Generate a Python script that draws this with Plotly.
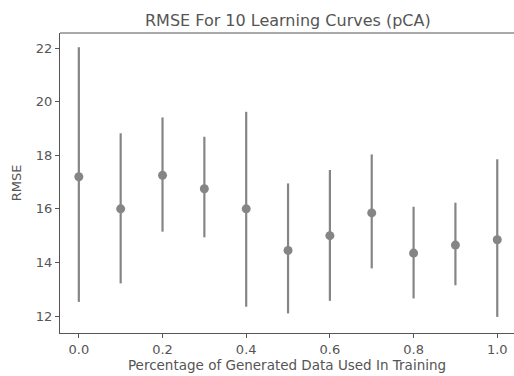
import plotly.graph_objects as go

fractions = [0.0, 0.1, 0.2, 0.3, 0.4, 0.5, 0.6, 0.7, 0.8, 0.9, 1.0]
rmse_mean = [17.2, 16.0, 17.25, 16.75, 16.0, 14.45, 15.0, 15.85, 14.35, 14.65, 14.85]
rmse_upper = [22.03, 18.82, 19.41, 18.69, 19.62, 16.95, 17.45, 18.03, 16.08, 16.23, 17.85]
rmse_lower = [12.53, 13.22, 15.15, 14.94, 12.35, 12.10, 12.57, 13.78, 12.66, 13.15, 11.97]

x_ticks = [0.0, 0.2, 0.4, 0.6, 0.8, 1.0]
y_ticks = [12, 14, 16, 18, 20, 22]

err_plus = [u - m for u, m in zip(rmse_upper, rmse_mean)]
err_minus = [m - l for m, l in zip(rmse_mean, rmse_lower)]

gray = "#858585"
text_col = "#555555"

fig = go.Figure()
fig.add_trace(go.Scatter(
    x=fractions, y=rmse_mean, mode="markers",
    marker=dict(size=9, color=gray),
    error_y=dict(type="data", symmetric=False, array=err_plus, arrayminus=err_minus,
                 color=gray, thickness=2.2, width=0),
    showlegend=False,
))

fig.update_layout(
    width=514, height=376,
    margin=dict(l=60, r=0, t=33, b=43),
    paper_bgcolor="white", plot_bgcolor="white",
    font=dict(family="DejaVu Sans", size=13, color=text_col),
    title=dict(text="RMSE For 10 Learning Curves (pCA)", x=0.56, xanchor="center",
               y=0.946, yanchor="middle", font=dict(size=16, color=text_col)),
)
# top frame line (drawn as a paper-referenced shape)
fig.add_shape(type="line", xref="paper", yref="paper", x0=0, x1=1, y0=1, y1=1,
              line=dict(color="#555555", width=1))
fig.update_xaxes(
    range=[-0.045, 1.04], tickvals=x_ticks, ticktext=[f"{v:.1f}" for v in x_ticks],
    showgrid=False, zeroline=False, showline=True, linecolor="#555555", linewidth=1,
    mirror=False, ticks="outside", ticklen=4, tickcolor="#555555",
    tickfont=dict(size=13),
    title=dict(text="Percentage of Generated Data Used In Training", standoff=3,
               font=dict(size=13.5, color=text_col)),
)
fig.update_yaxes(
    range=[11.37, 22.56], tickvals=y_ticks,
    showgrid=False, zeroline=False, showline=True, linecolor="#555555", linewidth=1,
    ticks="outside", ticklen=4, tickcolor="#555555",
    tickfont=dict(size=13),
    title=dict(text="RMSE", standoff=11, font=dict(size=13, color=text_col)),
)

fig.write_html("out.html")
